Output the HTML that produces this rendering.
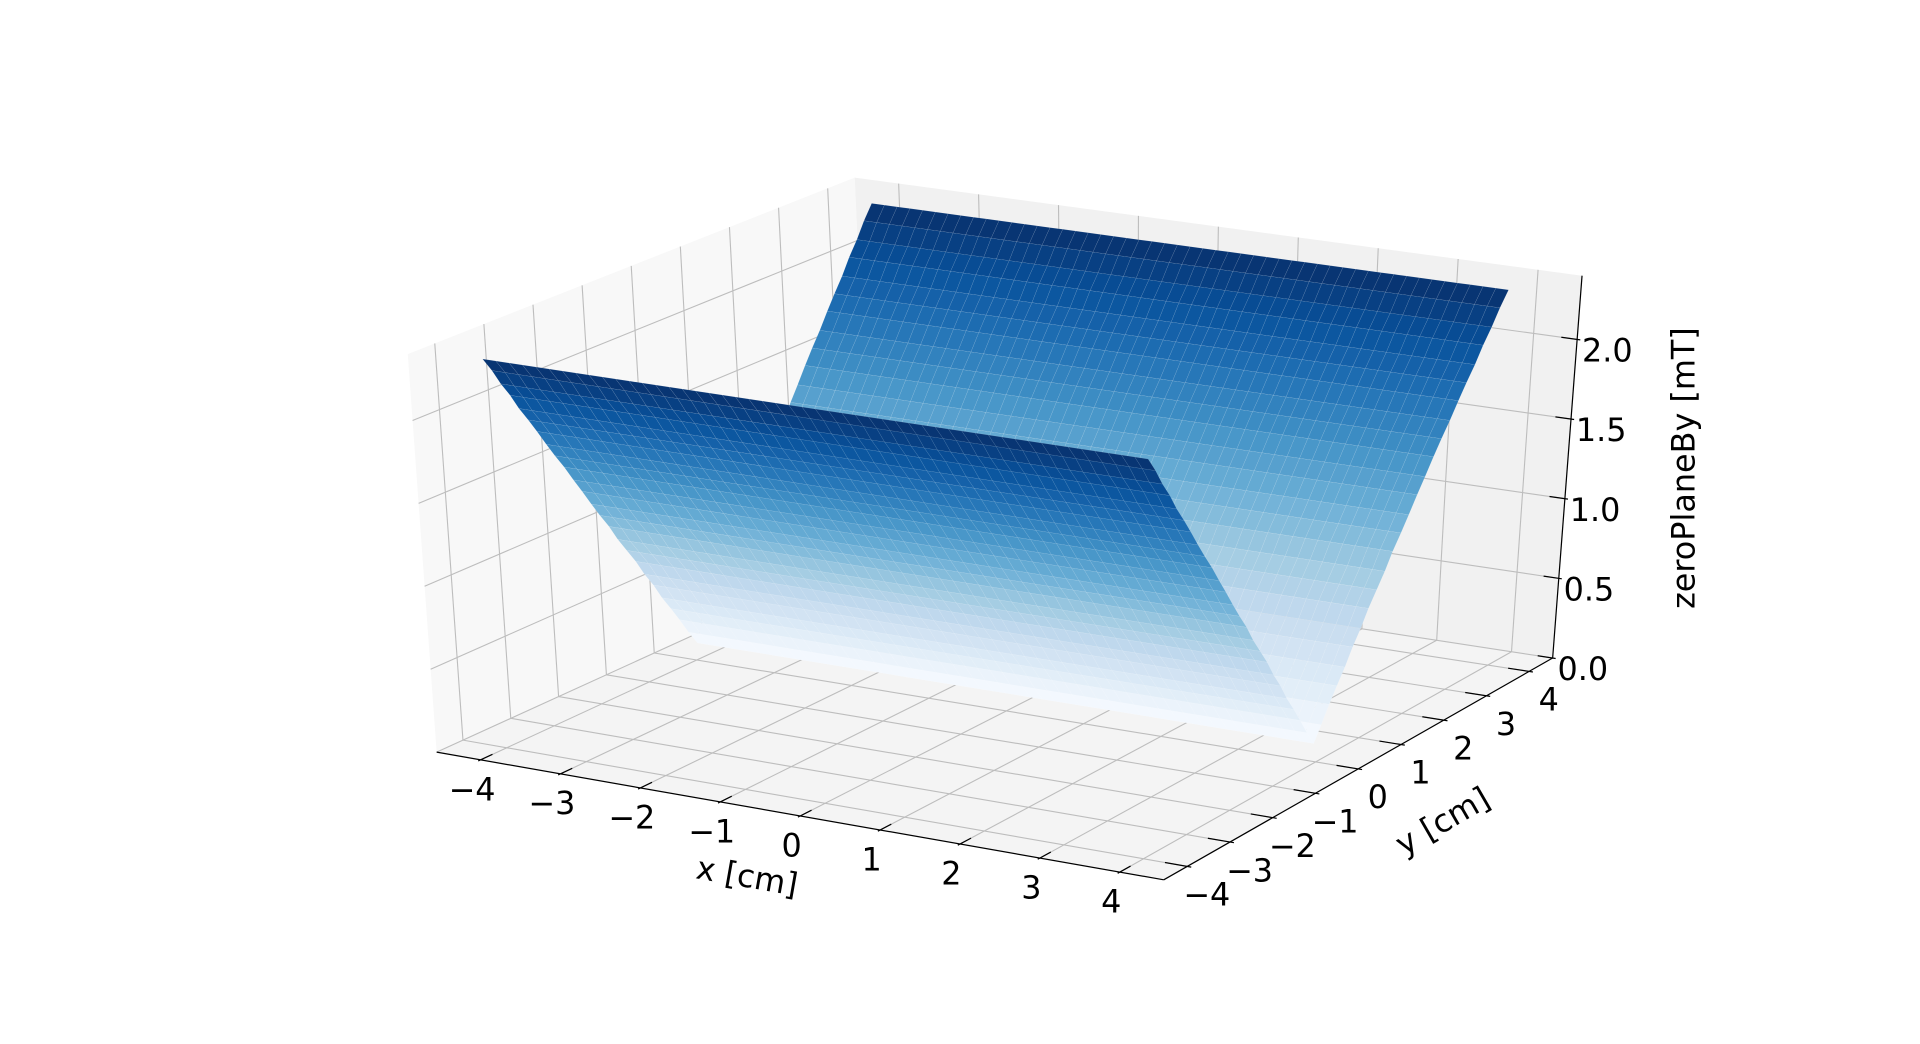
<!DOCTYPE html>
<html><head><meta charset="utf-8"><title>zeroPlaneBy surface</title>
<style>html,body{margin:0;padding:0;background:#fff;overflow:hidden}svg{display:block}</style>
</head><body>
<svg id="chart" xmlns="http://www.w3.org/2000/svg" width="1920" height="1044" viewBox="0 0 1568 852" preserveAspectRatio="none" font-family="'DejaVu Sans','Liberation Sans',sans-serif">
<g id="panes"></g>
<g id="grid"></g>
<g id="surface"></g>
<g id="axes"></g>
<g id="labels"></g>
<text x="610" y="724" font-size="26" text-anchor="middle" transform="rotate(10 610 716)">x [cm]</text>
<text x="1178" y="679" font-size="26" text-anchor="middle" transform="rotate(-30 1178 670)">y [cm]</text>
<text x="1375" y="391" font-size="26" text-anchor="middle" transform="rotate(-90 1375 382)">zeroPlaneBy [mT]</text>
</svg>
<script>
// ---- data ----
const xValues = [-4.35,-4.19,-4.03,-3.87,-3.71,-3.55,-3.39,-3.23,-3.07,-2.91,-2.75,-2.59,-2.43,-2.27,-2.11,-1.95,-1.79,-1.63,-1.47,-1.31,-1.15,-0.99,-0.83,-0.67,-0.51,-0.35,-0.19,-0.03,0.13,0.29,0.45,0.61,0.77,0.93,1.09,1.25,1.41,1.57,1.73,1.89,2.05,2.21,2.37,2.53,2.69,2.85,3.01,3.17,3.33,3.49,3.65];
const yValues = [-3.40,-3.23,-3.07,-2.90,-2.74,-2.57,-2.41,-2.24,-2.08,-1.91,-1.74,-1.58,-1.41,-1.25,-1.08,-0.92,-0.75,-0.58,-0.42,-0.25,-0.09,0.08,0.24,0.41,0.58,0.74,0.91,1.07,1.24,1.40,1.57,1.73,1.90,2.07,2.23,2.40,2.56,2.73,2.89,3.06,3.22,3.39,3.56,3.72,3.89,4.05,4.22,4.38,4.55];
const byValues = [2.25,2.16,2.06,1.97,1.87,1.78,1.69,1.59,1.50,1.41,1.31,1.22,1.12,1.03,0.94,0.84,0.75,0.66,0.56,0.47,0.37,0.28,0.19,0.09,0.00,0.09,0.19,0.28,0.37,0.47,0.56,0.66,0.75,0.84,0.94,1.03,1.12,1.22,1.31,1.41,1.50,1.59,1.69,1.78,1.87,1.97,2.06,2.16,2.25];
const xTicks = [-4,-3,-2,-1,0,1,2,3,4];
const yTicks = [-4,-3,-2,-1,0,1,2,3,4];
const zTicks = [0,0.5,1.0,1.5,2.0];
const xTickLabels = ["−4","−3","−2","−1","0","1","2","3","4"];
const yTickLabels = ["−4","−3","−2","−1","0","1","2","3","4"];
const zTickLabels = ["0.0","0.5","1.0","1.5","2.0"];

// ---- projection (box corners in view units) ----
const XMIN=-4.55,XMAX=4.55,YMIN=-4.55,YMAX=4.55,ZMIN=0,ZMAX=2.4;
const FL=[356.6,613.8],FR=[950.4,718],BR=[1268,537],BL=[712,452];
const TL=[333,289],TFR=[957,383],TBR=[1292,225],TBL=[698,145];
function bil(a,b,c,d,u,v){return [a[0]*(1-u)*(1-v)+b[0]*u*(1-v)+c[0]*u*v+d[0]*(1-u)*v, a[1]*(1-u)*(1-v)+b[1]*u*(1-v)+c[1]*u*v+d[1]*(1-u)*v];}
function P(x,y,z){const u=(x-XMIN)/(XMAX-XMIN),v=(y-YMIN)/(YMAX-YMIN),w=(z-ZMIN)/(ZMAX-ZMIN);
 const f=bil(FL,FR,BR,BL,u,v),t=bil(TL,TFR,TBR,TBL,u,v);return [f[0]+w*(t[0]-f[0]),f[1]+w*(t[1]-f[1])];}
const NS='http://www.w3.org/2000/svg';
function mk(tag,attrs,parent){const e=document.createElementNS(NS,tag);for(const k in attrs)e.setAttribute(k,attrs[k]);parent.appendChild(e);return e;}
function pts(arr){return arr.map(p=>p[0].toFixed(2)+','+p[1].toFixed(2)).join(' ');}
function line(a,b,stroke,sw,parent,name){const l=mk('line',{x1:a[0],y1:a[1],x2:b[0],y2:b[1],stroke:stroke,'stroke-width':sw},parent);
 
 
 return l;}

// panes
const panes=document.getElementById('panes');
let pn;
pn=mk('polygon',{points:pts([P(XMIN,YMIN,ZMIN),P(XMIN,YMAX,ZMIN),P(XMIN,YMAX,ZMAX),P(XMIN,YMIN,ZMAX)]),fill:'#f8f8f8'},panes);


pn=mk('polygon',{points:pts([P(XMIN,YMAX,ZMIN),P(XMAX,YMAX,ZMIN),P(XMAX,YMAX,ZMAX),P(XMIN,YMAX,ZMAX)]),fill:'#f1f1f1'},panes);


pn=mk('polygon',{points:pts([P(XMIN,YMIN,ZMIN),P(XMAX,YMIN,ZMIN),P(XMAX,YMAX,ZMIN),P(XMIN,YMAX,ZMIN)]),fill:'#f4f4f4'},panes);



// grid
const grid=document.getElementById('grid');const gc='#bdbdbd';
yTicks.forEach(t=>{line(P(XMIN,t,ZMIN),P(XMIN,t,ZMAX),gc,0.9,grid,'left-pane-y-grid');line(P(XMIN,t,ZMIN),P(XMAX,t,ZMIN),gc,0.9,grid,'floor-y-grid');});
xTicks.forEach(t=>{line(P(t,YMAX,ZMIN),P(t,YMAX,ZMAX),gc,0.9,grid,'back-pane-x-grid');line(P(t,YMIN,ZMIN),P(t,YMAX,ZMIN),gc,0.9,grid,'floor-x-grid');});
zTicks.forEach(t=>{line(P(XMIN,YMIN,t),P(XMIN,YMAX,t),gc,0.9,grid,'left-pane-z-grid');line(P(XMIN,YMAX,t),P(XMAX,YMAX,t),gc,0.9,grid,'back-pane-z-grid');});

// colormap (Blues)
const stops=[[247,251,255],[222,235,247],[198,219,239],[158,202,225],[107,174,214],[66,146,198],[33,113,181],[8,81,156],[8,48,107]];
function cmap(t){t=Math.max(0,Math.min(1,t));const s=t*(stops.length-1);const i=Math.min(Math.floor(s),stops.length-2);const f=s-i;
 const c=stops[i].map((v,k)=>Math.round(v+(stops[i+1][k]-v)*f));return 'rgb('+c.join(',')+')';}
const zMaxData=Math.max(...byValues),zMinData=Math.min(...byValues);

// surface
const surf=document.getElementById('surface');
const valley=byValues.indexOf(zMinData);
const order=[];
for(let i=yValues.length-2;i>=valley;i--)order.push(i);
for(let i=valley-1;i>=0;i--)order.push(i);
order.forEach(i=>{
 for(let j=0;j<xValues.length-1;j++){
  const z0=byValues[i],z1=byValues[i+1];
  const q=[P(xValues[j],yValues[i],z0),P(xValues[j+1],yValues[i],z0),P(xValues[j+1],yValues[i+1],z1),P(xValues[j],yValues[i+1],z1)];
  const col=cmap(((z0+z1)/2-zMinData)/(zMaxData-zMinData));
  const poly=mk('polygon',{points:pts(q),fill:col,stroke:'#ffffff','stroke-width':0.35,'stroke-opacity':0.18},surf);
  
  
 }
});

// axes
const axes=document.getElementById('axes');
line(P(XMIN,YMIN,ZMIN),P(XMAX,YMIN,ZMIN),'#000',1,axes,'x-axis-line');
line(P(XMAX,YMIN,ZMIN),P(XMAX,YMAX,ZMIN),'#000',1,axes,'y-axis-line');
line(P(XMAX,YMAX,ZMIN),P(XMAX,YMAX,ZMAX),'#000',1,axes,'z-axis-line');
const labels=document.getElementById('labels');
function label(p,txt,anchor,name){const t=mk('text',{x:p[0].toFixed(1),y:p[1].toFixed(1),'font-size':26,'text-anchor':anchor,fill:'#000'},labels);t.textContent=txt;
 
 }
xTicks.forEach((t,k)=>{line(P(t,YMIN+0.25,ZMIN),P(t,YMIN-0.05,ZMIN),'#000',1,axes,'x-tick');
 const p=P(t,YMIN,ZMIN);label([p[0]-7,p[1]+33],xTickLabels[k],'middle','x-tick-label');});
yTicks.forEach((t,k)=>{line(P(XMAX-0.28,t,ZMIN),P(XMAX+0.05,t,ZMIN),'#000',1,axes,'y-tick');
 const p=P(XMAX,t,ZMIN);label([p[0]+16,p[1]+32],yTickLabels[k],'middle','y-tick-label');});
zTicks.forEach((t,k)=>{line(P(XMAX-0.2,YMAX,t),P(XMAX+0.04,YMAX,t),'#000',1,axes,'z-tick');
 const p=P(XMAX,YMAX,t);label([p[0]+4,p[1]+18],zTickLabels[k],'start','z-tick-label');});
</script>
</body></html>
